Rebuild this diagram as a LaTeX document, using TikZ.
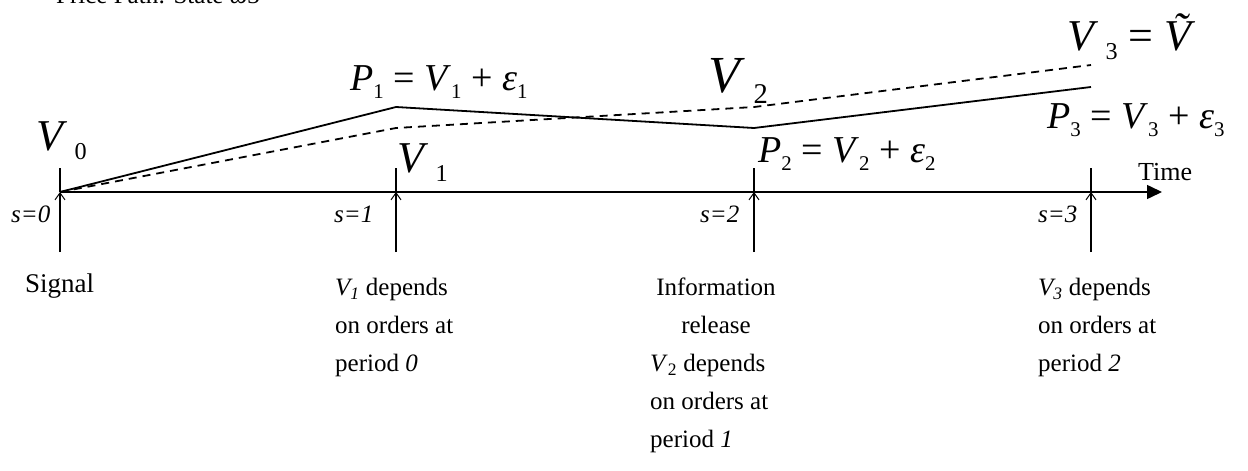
\documentclass[tikz,border=0pt]{standalone}
\usepackage{fontspec}
\setmainfont{Liberation Serif}
\usetikzlibrary{arrows.meta}
\newcommand{\lsub}[1]{\raisebox{-0.22em}{\scalebox{0.55}{#1}}}
\newcommand{\fs}[1]{\fontsize{#1}{#1}\selectfont}
\tikzset{
  path line/.style={line width=1.8pt},
  tick arrow/.style={line width=1.5pt, -{Straight Barb[length=7pt,width=10pt,line width=1pt]}},
  big label/.style={anchor=base west, inner sep=0pt, font=\fs{44}},
  eq label/.style={anchor=base west, inner sep=0pt, font=\fs{38}},
  s label/.style={anchor=base west, inner sep=0pt, font=\fs{25}\itshape},
  note/.style={anchor=north west, inner sep=0pt, align=left, font=\fontsize{25}{38}\selectfont},
}
\begin{document}
\begin{tikzpicture}[x=1pt, y=-1pt, line join=round, line cap=butt]
  \useasboundingbox (0,0) rectangle (1248,471);
  % title, cut at the top
  \node[anchor=base west, inner sep=0pt, font=\fs{25}] (title) at (56,4) {Price Path: State \textit{ω}3};
  % time axis
  \coordinate (a0) at (60,192);
  \coordinate (aend) at (1162,192);
  \draw[line width=1.5pt, -{Triangle[length=15pt,width=14pt]}] (a0) -- (aend);
  \node[anchor=base west, inner sep=0pt, font=\fs{26}] (time) at (1138,180) {Time};
  % ticks
  \foreach \tx/\tn/\sx in {60/0/11, 396/1/334, 754/2/700, 1091/3/1038} {
    \coordinate (t\tn) at (\tx,192);
    \coordinate (tt\tn) at (\tx,168);
    \coordinate (tb\tn) at (\tx,252);
    \draw[line width=1.5pt] (tt\tn) -- (t\tn);
    \draw[tick arrow] (tb\tn) -- (t\tn);
    \node[s label] (s\tn) at (\sx,222) {s=\tn};
  }
  % price and value paths
  \coordinate (p1) at (396,107);
  \coordinate (p2) at (754,128);
  \coordinate (p3) at (1091,87);
  \coordinate (v1) at (396,128);
  \coordinate (v2) at (754,107);
  \coordinate (v3) at (1091,65);
  \draw[path line] (t0) -- (p1) -- (p2) -- (p3);
  \draw[path line, dash pattern=on 8pt off 6pt] (t0) -- (v1) -- (v2) -- (v3);
  % labels
  \node[big label] (lv0) at (36,150) {\textit{V}\,\lsub{0}};
  \node[big label] (lv1) at (397,172) {\textit{V}\,\lsub{1}};
  \node[big label, font=\fs{52}] (lv2) at (708,92) {\textit{V}\,\lsub{2}};
  \node[big label] (lv3) at (1067,50) {\textit{V}\,\lsub{3} = \textit{\~{V}}};
  \node[eq label] (lp1) at (350,90) {\textit{P}\lsub{1} = \textit{V}\lsub{1} + \textit{ε}\lsub{1}};
  \node[eq label] (lp2) at (758,162) {\textit{P}\lsub{2} = \textit{V}\lsub{2} + \textit{ε}\lsub{2}};
  \node[eq label] (lp3) at (1047,128) {\textit{P}\lsub{3} = \textit{V}\lsub{3} + \textit{ε}\lsub{3}};
  % notes under the axis
  \node[note, font=\fs{27}] (n0) at (25,274) {Signal};
  \node[note] (n1) at (335,278) {\textit{V\textsubscript{1}} depends\\on orders at\\period \textit{0}};
  \node[note, anchor=north, align=center] (n2) at (716,278) {Information\\release};
  \node[note] (n2b) at (650,354) {\textit{V}\textsubscript{2} depends\\on orders at\\period \textit{1}};
  \node[note] (n3) at (1038,278) {\textit{V\textsubscript{3}} depends\\on orders at\\period \textit{2}};
\end{tikzpicture}
\end{document}
